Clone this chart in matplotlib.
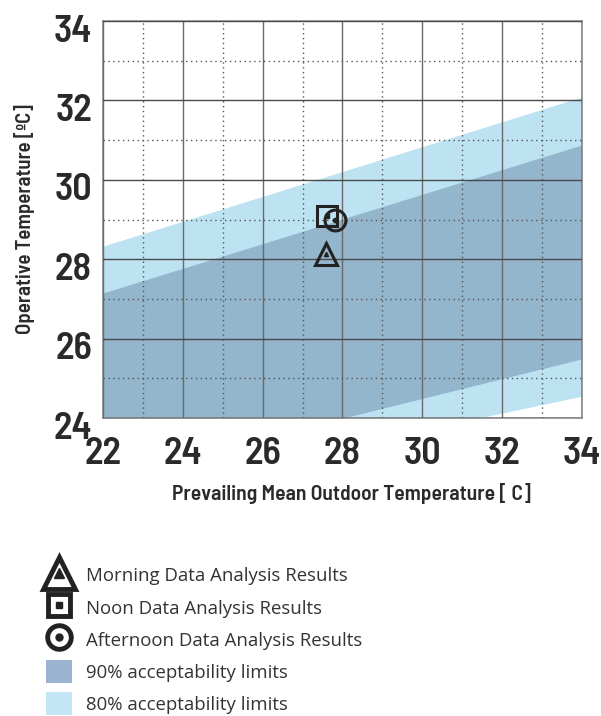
import matplotlib
matplotlib.use("Agg")
import matplotlib.pyplot as plt
import matplotlib.transforms as mtransforms
from matplotlib.lines import Line2D
from matplotlib.patches import Patch
from matplotlib.legend_handler import HandlerTuple
from matplotlib.ticker import MultipleLocator

# ---- data ----
band_x = [22, 34]
upper80 = [28.33, 32.09]
upper90 = [27.15, 30.88]
lower90 = [22.50, 25.49]
lower80 = [22.00, 24.55]

morning = (27.59, 28.13)
noon = (27.62, 29.08)
afternoon = (27.82, 29.00)

x_ticks = [22, 24, 26, 28, 30, 32, 34]
y_ticks = [24, 26, 28, 30, 32, 34]

labels = ["Morning Data Analysis Results", "Noon Data Analysis Results",
          "Afternoon Data Analysis Results", "90% acceptability limits",
          "80% acceptability limits"]

c80 = "#bde3f2"
c90 = "#93b6cc"
mk = "#222222"

cond = ["Barlow Semi Condensed", "DejaVu Sans"]

W, H = 601, 716
fig = plt.figure(figsize=(W / 100, H / 100), dpi=100)
ax = fig.add_axes([103 / W, 1 - 418 / H, 479 / W, 397 / H])

ax.fill_between(band_x, lower80, upper80, color=c80, lw=0, zorder=1)
ax.fill_between(band_x, lower90, upper90, color=c90, lw=0, zorder=2)

ax.set_xlim(22, 34)
ax.set_ylim(24, 34)
ax.xaxis.set_minor_locator(MultipleLocator(1))
ax.yaxis.set_minor_locator(MultipleLocator(1))
ax.grid(which="major", axis="y", color="#4a4a4a", lw=1.0, zorder=3)
ax.grid(which="major", axis="x", color="#6a6a6a", lw=1.0, zorder=3)
ax.grid(which="minor", color="#555555", lw=1.0, ls=(0, (1, 2.5)), zorder=3)
ax.set_axisbelow(False)
ax.tick_params(which="both", length=0)
for s in ax.spines.values():
    s.set_color("#8a8a8a")
    s.set_linewidth(1.2)

ax.set_xticks(x_ticks)
ax.set_yticks(y_ticks)
ax.set_xticklabels([str(v) for v in x_ticks], family=cond, weight="semibold",
                   fontsize=27.5, color="#2a2a2a")
ax.set_yticklabels([str(v) for v in y_ticks], family=cond, weight="semibold",
                   fontsize=27.5, color="#2a2a2a")
ax.tick_params(axis="x", pad=14)
ax.tick_params(axis="y", pad=8)
off = mtransforms.ScaledTranslation(0, -7 / 100, fig.dpi_scale_trans)
for lab in ax.get_yticklabels():
    lab.set_transform(lab.get_transform() + off)

ax.set_xlabel("Prevailing Mean Outdoor Temperature [ C]", family=cond,
              weight="semibold", fontsize=15.5, color="#2a2a2a")
ax.xaxis.set_label_coords((351 - 103) / 479, -(483 - 418) / 397)
ax.set_ylabel("Operative Temperature [ºC]", family=cond, weight="semibold",
              fontsize=15, color="#2a2a2a", labelpad=13)

# markers in plot
ax.plot(*noon, marker="s", ms=15, mfc="none", mec=mk, mew=2.2, zorder=5)
ax.plot(*noon, marker="s", ms=3, color=mk, zorder=5)
ax.plot(*afternoon, marker="o", ms=15, mfc="none", mec=mk, mew=2.2, zorder=6)
ax.plot(*afternoon, marker="o", ms=3, color=mk, zorder=6)
ax.plot(*morning, marker="^", ms=16, mfc="none", mec=mk, mew=2.2, zorder=5)
ax.plot(*morning, marker="^", ms=3, color=mk, zorder=5)

# legend
h_tri = (Line2D([], [], ls="none", marker="^", ms=23, mfc="none", mec=mk, mew=3.5),
         Line2D([], [], ls="none", marker="^", ms=7, color=mk))
h_sq = (Line2D([], [], ls="none", marker="s", ms=16, mfc="none", mec=mk, mew=3.5),
        Line2D([], [], ls="none", marker="s", ms=5, color=mk))
h_ci = (Line2D([], [], ls="none", marker="o", ms=17, mfc="none", mec=mk, mew=3.5),
        Line2D([], [], ls="none", marker="o", ms=5, color=mk))
h90 = Patch(facecolor="#9ab4d0", edgecolor="none")
h80 = Patch(facecolor="#c3e5f5", edgecolor="none")

leg = fig.legend([h_tri, h_sq, h_ci, h90, h80], labels,
                 handler_map={tuple: HandlerTuple(ndivide=1, pad=0)},
                 loc="upper left", bbox_to_anchor=(46 / W, 1 - 564 / H),
                 frameon=False, prop={"family": "Open Sans", "size": 13.4},
                 handlelength=1.4, handleheight=1.5, handletextpad=0.75,
                 labelspacing=0.5, borderpad=0, borderaxespad=0)
for t in leg.get_texts():
    t.set_color("#333333")

fig.savefig("out.png", dpi=100)
